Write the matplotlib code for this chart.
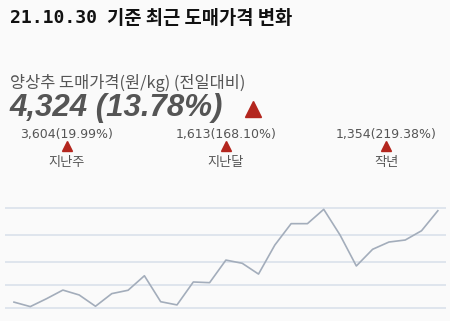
import matplotlib
matplotlib.use("Agg")
import matplotlib.pyplot as plt

# daily wholesale price of lettuce (won/kg), last 27 points
prices = [1613, 1480, 1715, 1970, 1825, 1490, 1865, 1965, 2395, 1625, 1530, 2210,
          2190, 2860, 2765, 2445, 3305, 3940, 3940, 4365, 3604, 2685, 3180, 3395,
          3455, 3730, 4324]
grid_values = [4410, 3595, 2810, 2110, 1430]

title = "21.10.30 기준 최근 도매가격 변화"
subtitle = "양상추 도매가격(원/kg) (전일대비)"
headline = "4,324 (13.78%)"
compare_values = ["3,604(19.99%)", "1,613(168.10%)", "1,354(219.38%)"]
compare_labels = ["지난주", "지난달", "작년"]

W, H = 450, 321
BG = "#fafafa"
TEXT = "#555555"
RED = "#b3261e"
KR = ["Noto Sans CJK KR", "DejaVu Sans"]

fig = plt.figure(figsize=(W / 100, H / 100), dpi=100, facecolor=BG)


def px(x, y):
    return x / W, 1 - y / H


fig.text(*px(10, 18), "21.10.30", family="DejaVu Sans Mono", fontweight="bold",
         fontsize=13, color="#111111", va="center", ha="left")
fig.text(*px(107, 18), title.split(" ", 1)[1], family=KR, fontweight="bold",
         fontsize=13.5, color="#111111", va="center", ha="left")

fig.text(*px(10, 83), subtitle, family=KR, fontsize=11.8, color=TEXT, va="center", ha="left")
fig.text(*px(10, 108), headline, family="Liberation Sans", fontweight="bold",
         style="italic", fontsize=22.5, color=TEXT, va="center", ha="left")

# overlay for the marker triangles in pixel coordinates
over = fig.add_axes([0, 0, 1, 1], facecolor="none")
over.set_xlim(0, W)
over.set_ylim(H, 0)
over.axis("off")
over.plot([253], [109], marker="^", markersize=12, color=RED, linestyle="none")

centers = [67, 226, 386]
for cx, val, lab in zip(centers, compare_values, compare_labels):
    fig.text(*px(cx, 134), val, family="Liberation Sans Narrow", fontsize=9,
             color=TEXT, va="center", ha="center")
    over.plot([cx], [146], marker="^", markersize=7, color=RED, linestyle="none")
    fig.text(*px(cx, 163), lab, family=KR, fontsize=9.5, color=TEXT,
             va="center", ha="center")

ax = fig.add_axes([5 / W, 0, 441 / W, (H - 195) / H], facecolor="none")
for g in grid_values:
    ax.axhline(g, color="#dde3ec", linewidth=1.3, zorder=1)
ax.plot(range(len(prices)), prices, color="#a3adbb", linewidth=1.2, zorder=2)
ax.set_xlim(-0.55, 26.5)
ax.set_ylim(1053, 4790)
ax.axis("off")

fig.savefig("out.png", dpi=100, facecolor=BG)
